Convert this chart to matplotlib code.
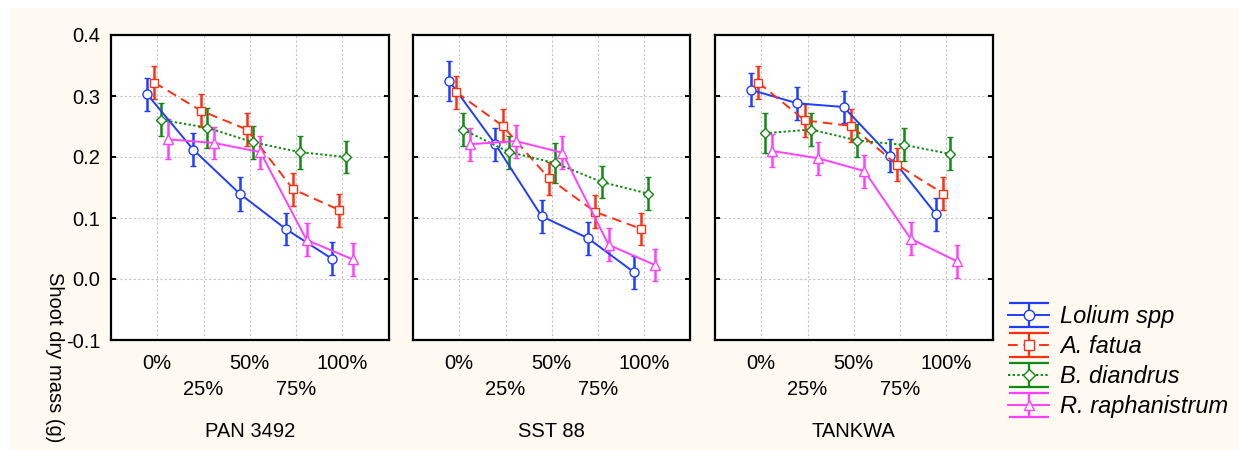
import matplotlib
matplotlib.use("Agg")
import matplotlib.pyplot as plt
from matplotlib.container import ErrorbarContainer
from matplotlib.collections import LineCollection
from matplotlib.lines import Line2D
from matplotlib.patches import Rectangle
from matplotlib.ticker import FuncFormatter

plt.rcParams["font.family"] = ["Liberation Sans", "DejaVu Sans"]
plt.rcParams["axes.unicode_minus"] = False

WIDTH_PX = 1239
HEIGHT_PX = 450
DPI = 100

# Data
cultivars = ["PAN 3492", "SST 88", "TANKWA"]
levels = ["0%", "25%", "50%", "75%", "100%"]
species = ["Lolium spp", "A. fatua", "B. diandrus", "R. raphanistrum"]

pan_means = [
    [0.303, 0.212, 0.140, 0.082, 0.033],
    [0.322, 0.276, 0.245, 0.147, 0.113],
    [0.261, 0.248, 0.224, 0.208, 0.200],
    [0.229, 0.223, 0.208, 0.064, 0.032],
]
pan_errs = [
    [0.027, 0.027, 0.028, 0.027, 0.027],
    [0.027, 0.027, 0.027, 0.027, 0.027],
    [0.027, 0.033, 0.027, 0.027, 0.027],
    [0.033, 0.027, 0.027, 0.027, 0.027],
]
sst_means = [
    [0.325, 0.221, 0.103, 0.067, 0.011],
    [0.306, 0.251, 0.165, 0.110, 0.082],
    [0.245, 0.208, 0.190, 0.159, 0.140],
    [0.221, 0.226, 0.207, 0.056, 0.023],
]
sst_errs = [
    [0.033, 0.027, 0.027, 0.027, 0.027],
    [0.027, 0.027, 0.027, 0.027, 0.027],
    [0.027, 0.027, 0.033, 0.027, 0.027],
    [0.027, 0.027, 0.027, 0.027, 0.027],
]
tankwa_means = [
    [0.310, 0.288, 0.282, 0.202, 0.106],
    [0.322, 0.260, 0.251, 0.187, 0.140],
    [0.239, 0.245, 0.227, 0.220, 0.205],
    [0.210, 0.198, 0.177, 0.066, 0.029],
]
tankwa_errs = [
    [0.027, 0.027, 0.027, 0.027, 0.027],
    [0.027, 0.027, 0.027, 0.027, 0.027],
    [0.033, 0.027, 0.027, 0.027, 0.027],
    [0.027, 0.027, 0.027, 0.027, 0.027],
]

# Styling per species
COLORS = ["#1f3dff", "#ff2f0f", "#118a11", "#ff40ff"]
MARKERS = ["o", "s", "D", "^"]
MSIZES = [6.5, 6.0, 4.8, 6.5]
LSTYLES = ["-", (0, (5, 3)), (0, (1.2, 1.2)), "-"]
OFFSETS = [-0.22, -0.06, 0.08, 0.23]
BG = "#fefaf2"
FS = 14.5


def px_rect(x0, y0, x1, y1):
    # Pixel box (top-left origin) to figure-fraction rect.
    return [x0 / WIDTH_PX, 1 - y1 / HEIGHT_PX, (x1 - x0) / WIDTH_PX, (y1 - y0) / HEIGHT_PX]


def draw_panel(ax, title, means, errs, show_yticks):
    ax.set_facecolor("white")
    for i in range(len(species)):
        xs = [k + OFFSETS[i] for k in range(len(levels))]
        ax.errorbar(
            xs, means[i], yerr=errs[i],
            color=COLORS[i], ecolor=COLORS[i], elinewidth=1.8,
            capsize=2.5, capthick=1.6,
            linestyle=LSTYLES[i], linewidth=1.4,
            marker=MARKERS[i], markersize=MSIZES[i],
            markerfacecolor="white", markeredgecolor=COLORS[i], markeredgewidth=1.0,
            zorder=3,
        )
    ax.set_xlim(-1, 5)
    ax.set_ylim(-0.1, 0.4)
    ax.set_yticks([-0.1, 0.0, 0.1, 0.2, 0.3, 0.4])
    ax.yaxis.set_major_formatter(FuncFormatter(lambda v, p: f"{v:.1f}"))
    # Alternating two-row category labels: 0/50/100 on top, 25/75 below.
    ax.set_xticks([0, 2, 4], labels=[levels[0], levels[2], levels[4]])
    ax.set_xticks([1, 3], labels=[levels[1], levels[3]], minor=True)
    ax.tick_params(axis="x", which="major", length=0, pad=10, labelsize=FS)
    ax.tick_params(axis="x", which="minor", length=0, pad=29, labelsize=FS)
    ax.tick_params(axis="y", direction="in", left=True, right=True, length=3.5,
                   width=1.4, labelsize=FS, pad=7.5, labelleft=show_yticks)
    ax.grid(True, which="both", color="#c4c4c4", linestyle=(0, (2, 2)), linewidth=0.8)
    ax.set_axisbelow(True)
    for s in ax.spines.values():
        s.set_linewidth(1.6)
    ax.set_xlabel(title, fontsize=FS)
    ax.xaxis.set_label_coords(0.5, -0.27)


def legend_handles():
    # Error-bar style legend glyphs with wide caps, as in the reference.
    handles = []
    for i in range(len(species)):
        line = Line2D([], [], color=COLORS[i], linestyle=LSTYLES[i], linewidth=1.4,
                      marker=MARKERS[i], markersize=MSIZES[i] + 1,
                      markerfacecolor="white", markeredgecolor=COLORS[i])
        cap1 = Line2D([], [], color=COLORS[i], marker="_", markersize=29,
                      markeredgewidth=1.6, linestyle="none")
        cap2 = Line2D([], [], color=COLORS[i], marker="_", markersize=29,
                      markeredgewidth=1.6, linestyle="none")
        bars = LineCollection([], colors=COLORS[i], linewidths=1.6)
        handles.append(ErrorbarContainer((line, (cap1, cap2), (bars,)),
                                         has_xerr=False, has_yerr=True))
    return handles


def main():
    fig = plt.figure(figsize=(WIDTH_PX / DPI, HEIGHT_PX / DPI), dpi=DPI)
    fig.patch.set_facecolor("white")
    fig.patches.append(Rectangle((11 / WIDTH_PX, 0), 1, 1 - 8 / HEIGHT_PX,
                                 transform=fig.transFigure, facecolor=BG,
                                 edgecolor="none", zorder=-10))

    all_means = [pan_means, sst_means, tankwa_means]
    all_errs = [pan_errs, sst_errs, tankwa_errs]
    lefts = [111, 413, 715]
    for j, name in enumerate(cultivars):
        ax = fig.add_axes(px_rect(lefts[j], 35, lefts[j] + 277.5, 340))
        draw_panel(ax, name, all_means[j], all_errs[j], j == 0)

    fig.text(54 / WIDTH_PX, 1 - 272 / HEIGHT_PX, "Shoot dry mass (g)",
             rotation=270, ha="center", va="top", fontsize=14.5)

    fig.legend(
        legend_handles(), species,
        loc="upper left", bbox_to_anchor=(1008 / WIDTH_PX, 1 - 305 / HEIGHT_PX),
        bbox_transform=fig.transFigure, frameon=False, borderpad=0,
        borderaxespad=0, handlelength=1.75, handletextpad=0.45,
        labelspacing=0.3, numpoints=1, prop={"size": 17, "style": "italic"},
    )

    fig.savefig("out.png", dpi=DPI, facecolor=fig.get_facecolor())
    plt.close(fig)


if __name__ == "__main__":
    main()
